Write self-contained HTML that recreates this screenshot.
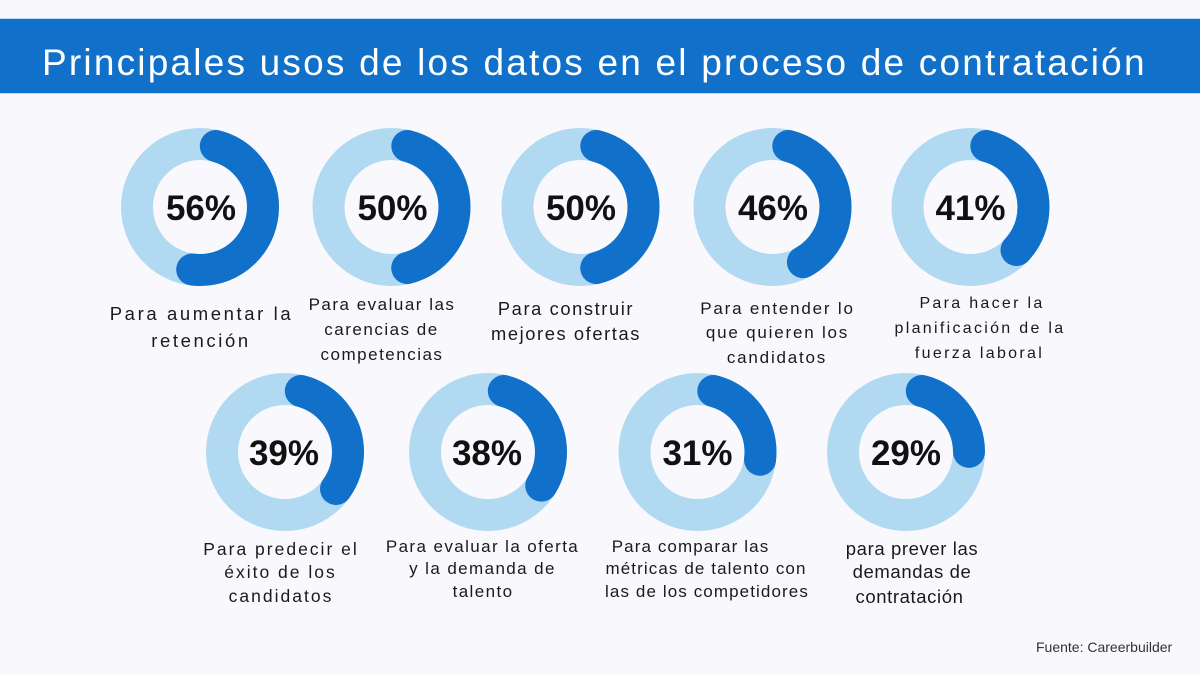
<!DOCTYPE html>
<html><head><meta charset="utf-8"><style>
html,body{margin:0;padding:0;background:#f9f9fd;}
svg{display:block;}
.pct{font-family:"Liberation Sans",Arial,sans-serif;font-weight:bold;font-size:35px;fill:#111;text-anchor:middle;}
.lb{font-family:"Liberation Sans",Arial,sans-serif;fill:#1a1a1a;text-anchor:middle;}
</style></head><body>
<svg width="1200" height="675" viewBox="0 0 1200 675" xmlns="http://www.w3.org/2000/svg">
<rect x="0" y="0" width="1200" height="675" fill="#f9f9fd"/>
<rect x="0" y="19" width="1200" height="74" fill="#1170c9"/>
<rect x="0" y="18" width="1200" height="1" fill="#b5d5f0"/>
<rect x="0" y="93" width="1200" height="1" fill="#b5d5f0"/>
<text x="42" y="75" font-family="Liberation Sans, Arial, sans-serif" font-size="37" letter-spacing="2.2" fill="#ffffff">Principales usos de los datos en el proceso de contratación</text>

<!-- donuts -->
<g fill="none" stroke-width="32">
  <circle cx="200" cy="207" r="63" stroke="#b1d9f2"/>
  <circle cx="200" cy="207" r="63" stroke="#1170c9" stroke-linecap="round" stroke-dasharray="189.67 400" stroke-dashoffset="-16" transform="rotate(-90 200 207)"/>

  <circle cx="391.5" cy="207" r="63" stroke="#b1d9f2"/>
  <circle cx="391.5" cy="207" r="63" stroke="#1170c9" stroke-linecap="round" stroke-dasharray="165.92 400" stroke-dashoffset="-16" transform="rotate(-90 391.5 207)"/>

  <circle cx="580.5" cy="207" r="63" stroke="#b1d9f2"/>
  <circle cx="580.5" cy="207" r="63" stroke="#1170c9" stroke-linecap="round" stroke-dasharray="165.92 400" stroke-dashoffset="-16" transform="rotate(-90 580.5 207)"/>

  <circle cx="772.5" cy="207" r="63" stroke="#b1d9f2"/>
  <circle cx="772.5" cy="207" r="63" stroke="#1170c9" stroke-linecap="round" stroke-dasharray="150.09 400" stroke-dashoffset="-16" transform="rotate(-90 772.5 207)"/>

  <circle cx="970.5" cy="207" r="63" stroke="#b1d9f2"/>
  <circle cx="970.5" cy="207" r="63" stroke="#1170c9" stroke-linecap="round" stroke-dasharray="130.29 400" stroke-dashoffset="-16" transform="rotate(-90 970.5 207)"/>

  <circle cx="285" cy="452" r="63" stroke="#b1d9f2"/>
  <circle cx="285" cy="452" r="63" stroke="#1170c9" stroke-linecap="round" stroke-dasharray="122.38 400" stroke-dashoffset="-16" transform="rotate(-90 285 452)"/>

  <circle cx="488" cy="452" r="63" stroke="#b1d9f2"/>
  <circle cx="488" cy="452" r="63" stroke="#1170c9" stroke-linecap="round" stroke-dasharray="118.42 400" stroke-dashoffset="-16" transform="rotate(-90 488 452)"/>

  <circle cx="697.5" cy="452" r="63" stroke="#b1d9f2"/>
  <circle cx="697.5" cy="452" r="63" stroke="#1170c9" stroke-linecap="round" stroke-dasharray="90.71 400" stroke-dashoffset="-16" transform="rotate(-90 697.5 452)"/>

  <circle cx="906" cy="452" r="63" stroke="#b1d9f2"/>
  <circle cx="906" cy="452" r="63" stroke="#1170c9" stroke-linecap="round" stroke-dasharray="82.79 400" stroke-dashoffset="-16" transform="rotate(-90 906 452)"/>
</g>

<text class="pct" x="201" y="220">56%</text>
<text class="pct" x="392.5" y="220">50%</text>
<text class="pct" x="581" y="220">50%</text>
<text class="pct" x="773" y="220">46%</text>
<text class="pct" x="970.5" y="220">41%</text>
<text class="pct" x="284" y="465">39%</text>
<text class="pct" x="487" y="465">38%</text>
<text class="pct" x="697.5" y="465">31%</text>
<text class="pct" x="906" y="465">29%</text>

<!-- labels -->
<g class="lb" font-size="18.5" letter-spacing="2.6">
  <text x="201.5" y="320">Para aumentar la</text>
  <text x="201" y="347">retención</text>
</g>
<g class="lb" font-size="17" letter-spacing="1.5">
  <text x="382" y="310">Para evaluar las</text>
  <text x="381.5" y="335">carencias de</text>
  <text x="382" y="360">competencias</text>
</g>
<g class="lb" font-size="18.3" letter-spacing="1.6">
  <text x="566" y="315">Para construir</text>
  <text x="566" y="340">mejores ofertas</text>
</g>
<g class="lb" font-size="17" letter-spacing="1.8">
  <text x="777.5" y="314">Para entender lo</text>
  <text x="777.5" y="338">que quieren los</text>
  <text x="777" y="363">candidatos</text>
</g>
<g class="lb" font-size="16" letter-spacing="2.3">
  <text x="982" y="308">Para hacer la</text>
  <text x="980" y="333">planificación de la</text>
  <text x="979.5" y="358">fuerza laboral</text>
</g>
<g class="lb" font-size="17.5" letter-spacing="2">
  <text x="281" y="555">Para predecir el</text>
  <text x="280.5" y="578">éxito de los</text>
  <text x="281" y="602">candidatos</text>
</g>
<g class="lb" font-size="17" letter-spacing="1.4">
  <text x="482.5" y="552">Para evaluar la oferta</text>
  <text x="482.5" y="574">y la demanda de</text>
  <text x="483" y="597">talento</text>
</g>
<g class="lb" font-size="17" letter-spacing="1.1">
  <text x="690.5" y="552">Para comparar las</text>
  <text x="706" y="574">métricas de talento con</text>
  <text x="707" y="597">las de los competidores</text>
</g>
<g class="lb" font-size="18.5" letter-spacing="0.6">
  <text x="912" y="555">para prever las</text>
  <text x="912" y="578">demandas de</text>
  <text x="909.5" y="603">contratación</text>
</g>

<text x="1036" y="652" font-family="Liberation Sans, Arial, sans-serif" font-size="14" fill="#333">Fuente: Careerbuilder</text>
</svg>
</body></html>
